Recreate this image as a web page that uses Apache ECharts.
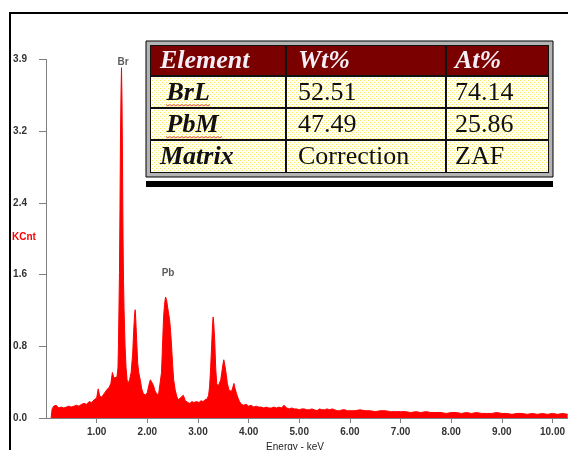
<!DOCTYPE html>
<html><head><meta charset="utf-8">
<script src="https://cdn.jsdelivr.net/npm/echarts@6/dist/echarts.min.js"></script>
<style>html,body{margin:0;padding:0;background:#fff}#c{width:568px;height:450px}</style>
</head><body><div id="c"></div>
<script>
// ---- data ----
const energy = [0.10,0.12,0.15,0.18,0.20,0.23,0.25,0.28,0.30,0.35,0.40,0.45,0.50,0.55,0.60,0.65,0.70,0.75,0.80,0.85,0.90,0.95,1.00,
1.03,1.06,1.10,1.15,1.20,1.25,1.28,1.31,1.34,1.37,1.40,1.42,1.43,1.44,1.45,1.46,1.47,1.48,1.49,1.50,1.51,1.52,1.53,1.54,1.56,1.58,1.60,
1.62,1.65,1.68,1.71,1.73,1.75,1.76,1.77,1.79,1.81,1.83,1.86,1.89,1.92,1.96,2.00,2.03,2.06,2.09,2.12,2.15,2.18,2.22,2.25,
2.28,2.30,2.32,2.34,2.36,2.38,2.40,2.42,2.44,2.46,2.48,2.50,2.52,2.55,2.58,2.61,2.65,2.68,2.71,2.75,2.80,2.84,2.88,2.92,2.97,
3.02,3.06,3.10,3.14,3.18,3.21,3.23,3.25,3.27,3.29,3.30,3.31,3.33,3.35,3.37,3.40,3.42,3.45,3.47,3.49,3.51,3.53,3.55,3.58,3.61,
3.64,3.66,3.69,3.71,3.73,3.76,3.79,3.82,3.86,3.90,3.95,4.00,4.05,4.10,4.15,4.20,4.25,4.30,4.35,4.40,4.45,4.50,4.55,4.60,4.65,
4.70,4.75,4.80,4.85,4.90,4.95,5.00,5.05,5.10,5.15,5.20,5.25,5.30,5.35,5.40,5.45,5.50,5.55,5.60,5.65,5.70,5.75,5.80,5.85,5.90,5.95,
6.00,6.10,6.20,6.30,6.40,6.50,6.60,6.70,6.80,
6.90,7.00,7.10,7.20,7.30,7.40,7.50,7.60,7.70,7.80,7.90,8.00,8.10,8.20,8.30,8.40,8.50,8.60,8.70,8.80,8.90,9.00,9.10,9.20,9.30,
9.40,9.50,9.60,9.70,9.80,9.90,10.00,10.10,10.20,10.30];
const counts = [0.00,0.10,0.13,0.11,0.14,0.12,0.11,0.12,0.12,0.11,0.12,0.13,0.12,0.13,0.14,0.13,0.15,0.16,0.15,0.18,0.17,0.20,0.22,
0.32,0.24,0.23,0.27,0.31,0.34,0.38,0.50,0.44,0.42,0.45,0.55,0.80,1.20,1.60,2.30,3.10,3.55,3.85,3.50,2.80,2.00,1.50,1.20,0.80,0.55,0.42,
0.38,0.42,0.50,0.70,0.95,1.15,1.19,1.10,0.85,0.60,0.50,0.42,0.32,0.27,0.25,0.28,0.36,0.42,0.40,0.36,0.30,0.27,0.25,0.27,
0.50,0.80,1.10,1.25,1.33,1.30,1.22,1.15,1.08,0.95,0.78,0.58,0.42,0.31,0.24,0.20,0.22,0.21,0.25,0.19,0.17,0.16,0.18,0.17,0.18,
0.17,0.19,0.18,0.20,0.21,0.25,0.35,0.55,0.80,1.05,1.11,1.05,0.86,0.55,0.38,0.35,0.33,0.42,0.50,0.58,0.64,0.58,0.51,0.38,0.31,
0.30,0.29,0.34,0.38,0.33,0.27,0.22,0.18,0.15,0.14,0.15,0.13,0.14,0.12,0.13,0.12,0.12,0.11,0.12,0.11,0.11,0.12,0.11,0.12,0.11,
0.14,0.11,0.10,0.11,0.10,0.10,0.09,0.10,0.10,0.09,0.09,0.10,0.09,0.08,0.10,0.09,0.09,0.10,0.09,0.10,0.09,0.08,0.08,0.09,0.09,0.08,
0.08,0.08,0.09,0.08,0.08,0.07,0.08,0.08,0.07,
0.07,0.07,0.07,0.06,0.07,0.06,0.07,0.06,0.06,0.06,0.05,0.06,0.06,0.05,0.06,0.05,0.06,0.05,0.05,0.05,0.06,0.05,0.05,0.04,0.05,
0.05,0.04,0.05,0.04,0.05,0.04,0.05,0.04,0.05,0.04];
const xTicks = [1,2,3,4,5,6,7,8,9,10];
const yTickLabels = ['0.0','0.8','1.6','2.4','3.2','3.9'];
const peakNames = ['Br','Pb'];
const peakLabelEnergy = [1.52, 2.41];
const peakLabelCount = [3.91, 1.59];
const tableHeader = ['Element','Wt%','At%'];
const tableRows = [[' BrL','52.51','74.14'],[' PbM','47.49','25.86'],['Matrix','Correction','ZAF']];

// ---- chart ----
const chart = echarts.init(document.getElementById('c'));

const pc = document.createElement('canvas'); pc.width = 4; pc.height = 4;
const g = pc.getContext('2d');
g.fillStyle = '#fffff4'; g.fillRect(0,0,4,4);
g.fillStyle = '#f6e860'; g.fillRect(0,0,1,1); g.fillRect(2,2,1,1);
const dotted = {image: pc, repeat: 'repeat'};

const colX = [150, 286, 446, 549];
const rowY = [45, 76, 108, 140, 173];
const pads = [10, 12, 9];
const graphics = [];
graphics.push({type:'rect', z:1, shape:{x:10,y:13,width:620,height:520}, style:{fill:'none',stroke:'#000',lineWidth:2}});
graphics.push({type:'rect', z:100, shape:{x:146,y:41,width:407,height:136}, style:{fill:'#b4b4b4',stroke:'#000',lineWidth:1}});
graphics.push({type:'rect', z:101, shape:{x:colX[0],y:rowY[0],width:colX[3]-colX[0],height:rowY[4]-rowY[0]}, style:{fill:'#111'}});
for (let r = 0; r < 4; r++) {
  for (let c = 0; c < 3; c++) {
    graphics.push({type:'rect', z:102, shape:{x:colX[c]+1,y:rowY[r]+1,width:colX[c+1]-colX[c]-2,height:rowY[r+1]-rowY[r]-2},
      style:{fill: r === 0 ? '#7a0000' : dotted}});
    const txt = r === 0 ? tableHeader[c] : tableRows[r-1][c];
    const head = r === 0, first = c === 0;
    graphics.push({type:'text', z:103, x: colX[c] + pads[c], y: (rowY[r]+rowY[r+1])/2 + 1,
      style:{text: txt, fontFamily:'Liberation Serif', fontSize:26,
        fontStyle: (head || first) ? 'italic' : 'normal', fontWeight: (head || first) ? 'bold' : 'normal',
        fill: head ? '#f6eef6' : '#111', verticalAlign:'middle', align:'left',
        shadowColor: head ? '#3a2a5a' : (first ? '#6a7aa8' : 'rgba(0,0,0,0)'), shadowOffsetX:1, shadowOffsetY:1, shadowBlur:0}});
  }
}
// spell-check wavy underlines
function wavy(x0, x1, y) { const pts = []; for (let x = x0, k = 0; x <= x1; x += 2, k++) pts.push([x, y + (k % 2 ? 1.5 : 0)]); return pts; }
graphics.push({type:'polyline', z:104, shape:{points: wavy(166, 210, 104.5)}, style:{stroke:'#e05050', lineWidth:1, fill:null}});
graphics.push({type:'polyline', z:104, shape:{points: wavy(166, 222, 136.5)}, style:{stroke:'#e05050', lineWidth:1, fill:null}});
graphics.push({type:'rect', z:100, shape:{x:146,y:181,width:407,height:6}, style:{fill:'#000'}});
graphics.push({type:'text', z:100, x:12, y:237, style:{text:'KCnt', fill:'#ff0000', fontFamily:'Liberation Sans', fontWeight:'bold', fontSize:10, verticalAlign:'middle'}});
graphics.push({type:'text', z:100, x:295, y:442, style:{text:'Energy - keV', fill:'#222', fontFamily:'Liberation Sans', fontSize:10, align:'center', verticalAlign:'top'}});

chart.setOption({
  animation: false,
  grid: {left: 43, right: 0, top: 59.5, bottom: 32, containLabel: false},
  xAxis: {
    type: 'value', min: -0.06, max: 10.3,
    axisLine: {show: true, lineStyle: {color: '#808080', width: 1}},
    axisTick: {show: true, customValues: xTicks, length: 5, lineStyle: {color: '#808080'}},
    axisLabel: {show: true, customValues: xTicks, margin: 9, formatter: v => v.toFixed(2),
      fontFamily: 'Liberation Sans', fontWeight: 'bold', fontSize: 10, color: '#333'},
    splitLine: {show: false}
  },
  yAxis: {
    type: 'value', min: 0, max: 3.94, interval: 0.788,
    axisLine: {show: true, lineStyle: {color: '#808080', width: 1}},
    axisTick: {show: true, length: 7, lineStyle: {color: '#808080'}},
    axisLabel: {show: true, margin: 16, formatter: (v, i) => yTickLabels[i],
      fontFamily: 'Liberation Sans', fontWeight: 'bold', fontSize: 10, color: '#333'},
    splitLine: {show: false}
  },
  series: [
    {type: 'line', data: energy.map((e, i) => [e, counts[i]]), showSymbol: false, symbol: 'none',
      lineStyle: {color: '#ff0000', width: 1}, areaStyle: {color: '#ff0000', opacity: 1}, silent: true, z: 2},
    {type: 'scatter', data: peakNames.map((n, i) => [peakLabelEnergy[i], peakLabelCount[i], n]), symbolSize: 0,
      label: {show: true, position: 'inside', formatter: p => p.data[2], fontFamily: 'Liberation Sans', fontWeight: 'bold', fontSize: 10, color: '#333'},
      silent: true, z: 3}
  ],
  graphic: graphics
});
</script></body></html>
